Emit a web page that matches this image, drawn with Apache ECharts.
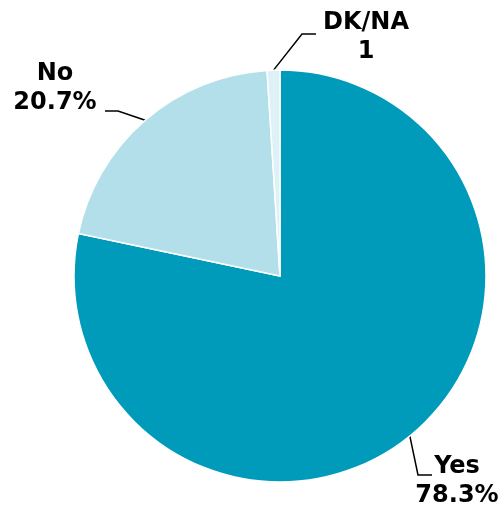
<!DOCTYPE html>
<html><head><meta charset="utf-8">
<script src="https://cdn.jsdelivr.net/npm/echarts@6/dist/echarts.min.js"></script>
<style>html,body{margin:0;padding:0;background:#fff}#c{width:504px;height:506px}</style>
</head><body><div id="c"></div>
<script>
const categories = ['Yes', 'No', 'DK/NA'];
const values = [78.3, 20.7, 1.0];
const valueLabels = ['78.3%', '20.7%', '1'];
const colors = ['#009BBB', '#B2DFEA', '#DDF1F7'];
// label anchor placement (label text centre) and line bend for each slice
const labelPos = [[457, 481], [55, 88], [366, 37]];
const bendPts = [[[418, 475], [432, 475]], [[118, 111], [105, 111]], [[302, 34], [316, 34]]];

const chart = echarts.init(document.getElementById('c'), null, {renderer: 'canvas'});
chart.setOption({
  animation: false,
  series: [{
    type: 'pie',
    center: [280, 276],
    radius: 206,
    startAngle: 90,
    clockwise: true,
    itemStyle: {borderColor: '#fff', borderWidth: 1.5},
    label: {
      show: true,
      formatter: p => p.name + '\n' + valueLabels[p.dataIndex],
      fontFamily: 'DejaVu Sans',
      fontWeight: 'bold',
      fontSize: 24,
      lineHeight: 29,
      color: '#000',
      align: 'center',
      overflow: 'none',
      width: 200
    },
    labelLine: {show: true, lineStyle: {color: '#000', width: 1.5}, length: 10, length2: 10},
    labelLayout: function (params) {
      const i = params.dataIndex;
      const start = params.labelLinePoints ? params.labelLinePoints[0] : null;
      const out = {x: labelPos[i][0], y: labelPos[i][1], align: 'center', verticalAlign: 'middle'};
      if (start) out.labelLinePoints = [start, bendPts[i][0], bendPts[i][1]];
      return out;
    },
    data: categories.map((c, i) => ({name: c, value: values[i], itemStyle: {color: colors[i]}}))
  }]
});
</script></body></html>
